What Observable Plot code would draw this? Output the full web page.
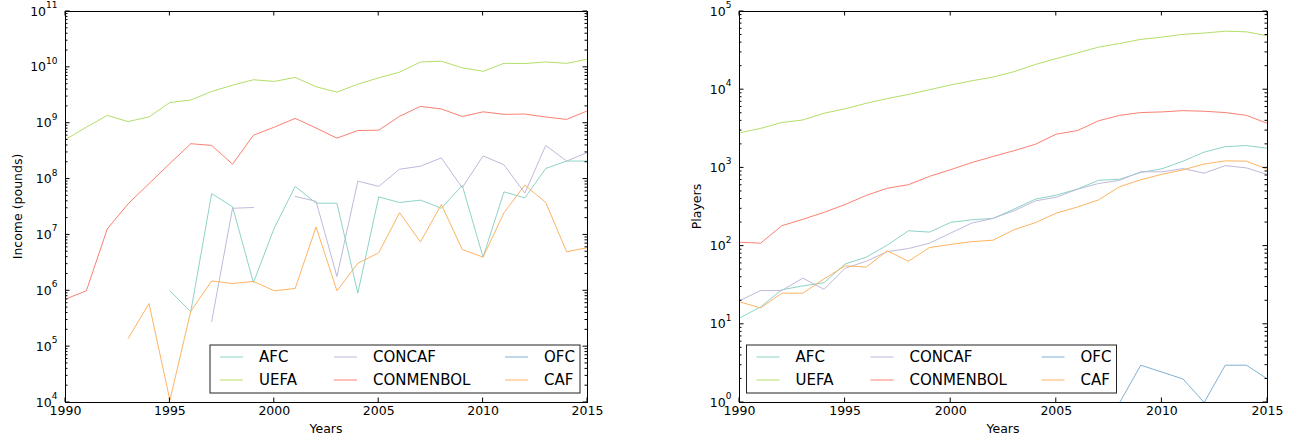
<!DOCTYPE html>
<html><head><meta charset="utf-8">
<script src="https://cdn.jsdelivr.net/npm/d3@7"></script>
<script src="https://cdn.jsdelivr.net/npm/@observablehq/plot@0.6"></script>
<style>
body{margin:0;background:#fff;}
#wrap{display:flex;width:1298px;height:445px;}
svg{font-family:"DejaVu Sans",sans-serif;display:block;}
</style></head><body><div id="wrap"></div>
<script>
const years = [1990,1991,1992,1993,1994,1995,1996,1997,1998,1999,2000,2001,2002,2003,2004,2005,2006,2007,2008,2009,2010,2011,2012,2013,2014,2015];
const names = ["AFC","UEFA","CONCAF","CONMENBOL","OFC","CAF"];
const colors = ["#8dd3c7","#b3de69","#bebada","#fb8072","#80b1d3","#fdb462"];

const incomeAFC = [null,null,null,null,null,1.0e6,4.2e5,5.5e7,3.2e7,1.4e6,1.33e7,7.4e7,3.7e7,3.7e7,9.1e5,4.8e7,3.8e7,4.2e7,3.0e7,7.7e7,4.0e6,5.9e7,4.6e7,1.55e8,2.1e8,2.1e8];
const incomeUEFA = [5.1e8,8.5e8,1.38e9,1.07e9,1.3e9,2.35e9,2.6e9,3.7e9,4.8e9,6.0e9,5.6e9,6.6e9,4.5e9,3.6e9,5.0e9,6.5e9,8.2e9,1.25e10,1.29e10,9.8e9,8.5e9,1.18e10,1.17e10,1.25e10,1.18e10,1.4e10];
const incomeCONCAF = [null,null,null,null,null,null,null,2.8e5,3.0e7,3.1e7,null,4.9e7,4.0e7,1.8e6,9.2e7,7.4e7,1.5e8,1.7e8,2.4e8,7.0e7,2.6e8,1.8e8,5.6e7,4.0e8,2.1e8,3.0e8];
const incomeCONMENBOL = [7.1e5,1.0e6,1.28e7,3.6e7,8.3e7,1.9e8,4.3e8,4.0e8,1.85e8,6.1e8,8.5e8,1.22e9,8.2e8,5.4e8,7.4e8,7.5e8,1.33e9,2.0e9,1.8e9,1.32e9,1.6e9,1.44e9,1.46e9,1.29e9,1.17e9,1.67e9];
const incomeOFC = [];
const incomeCAF = [null,null,null,1.4e5,5.9e5,1.1e4,4.3e5,1.5e6,1.35e6,1.47e6,1.0e6,1.1e6,1.39e7,1.0e6,3.1e6,4.8e6,2.5e7,7.5e6,3.5e7,5.5e6,4.0e6,2.5e7,7.8e7,3.8e7,5.0e6,5.9e6];

const playersAFC = [12,16.7,27.6,31,34,59,72,103,157,151,201,217,226,297,398,448,537,693,717,874,974,1220,1590,1870,1930,1780];
const playersUEFA = [2800,3200,3800,4100,5000,5700,6700,7700,8700,10000,11500,13000,14500,17000,21000,25000,29500,35000,39000,44000,47000,51000,53000,56000,55000,49000];
const playersCONCAF = [20,27,27,39,28,52,64,85,93,109,147,197,226,283,378,422,533,632,693,894,890,980,857,1070,1000,822];
const playersCONMENBOL = [112,109,182,220,270,340,445,550,610,780,950,1170,1400,1660,2000,2700,3000,4000,4700,5100,5200,5400,5300,5100,4700,3700];
const playersOFC = [null,null,null,null,null,null,null,null,null,null,null,null,null,null,null,null,null,null,1,3,2.45,2,1,3,3,2];
const playersCAF = [19.4,16.2,25,25,38,56,54,87,64,96,105,114,119,162,199,264,316,390,575,705,828,944,1120,1230,1220,960];

const xTicks = [1990,1995,2000,2005,2010,2015];
const incomeTicks = [1e4,1e5,1e6,1e7,1e8,1e9,1e10,1e11];
const playersTicks = [1e0,1e1,1e2,1e3,1e4,1e5];

function rows(list) {
  const out = [];
  names.forEach((n, i) => years.forEach((yr, j) => {
    const v = list[i][j];
    out.push({conf: n, year: yr, value: (v == null ? NaN : v)});
  }));
  return out;
}

function panel(o) {
  const W = 649, H = 445, mt = 11, mb = 43;
  const chart = Plot.plot({
    width: W, height: H,
    marginLeft: o.ml, marginRight: o.mr, marginTop: mt, marginBottom: mb,
    style: {fontFamily: "'DejaVu Sans', sans-serif", fontSize: "12.5px", color: "#000", background: "#fff", overflow: "visible"},
    x: {domain: [1990, 2015]},
    y: {type: "log", domain: [o.yTicks[0], o.yTicks[o.yTicks.length - 1]]},
    color: {domain: names, range: colors},
    marks: [
      Plot.line(o.data, {x: "year", y: "value", z: "conf", stroke: "conf", strokeWidth: 1, clip: true}),
      Plot.frame({stroke: "#000", strokeWidth: 1}),
      Plot.axisX({ticks: xTicks, tickFormat: d => String(d), tickSize: 0, tickPadding: 4, label: null}),
      Plot.axisY({ticks: o.yTicks, tickFormat: d => String(Math.round(Math.log10(d))), tickSize: 0, tickPadding: 8, label: null})
    ]
  });
  const svg = d3.select(chart);
  const x = chart.scale("x"), y = chart.scale("y");
  const x0 = o.ml, x1 = W - o.mr, y0 = mt, y1 = H - mb;

  // superscript tick labels
  svg.selectAll('g[aria-label="y-axis tick label"] text').each(function () {
    const e = this.textContent;
    const t = d3.select(this);
    t.text(null);
    t.append("tspan").text("10");
    t.append("tspan").attr("dy", "-7.5").attr("font-size", "9px").text(e);
  });

  // inward ticks on all four sides
  const g = svg.append("g").attr("stroke", "#000").attr("stroke-width", 1).attr("fill", "none");
  xTicks.forEach(t => {
    const px = x.apply(t);
    g.append("line").attr("x1", px).attr("x2", px).attr("y1", y1).attr("y2", y1 - 4.5);
    g.append("line").attr("x1", px).attr("x2", px).attr("y1", y0).attr("y2", y0 + 4.5);
  });
  o.yTicks.forEach((t, i) => {
    const py = y.apply(t);
    g.append("line").attr("x1", x0).attr("x2", x0 + 4.5).attr("y1", py).attr("y2", py);
    g.append("line").attr("x1", x1).attr("x2", x1 - 4.5).attr("y1", py).attr("y2", py);
    if (i < o.yTicks.length - 1) {
      for (let m = 2; m <= 9; m++) {
        const pm = y.apply(t * m);
        g.append("line").attr("x1", x0).attr("x2", x0 + 2.5).attr("y1", pm).attr("y2", pm);
        g.append("line").attr("x1", x1).attr("x2", x1 - 2.5).attr("y1", pm).attr("y2", pm);
      }
    }
  });

  // axis labels
  svg.append("text").attr("x", (x0 + x1) / 2).attr("y", 433).attr("text-anchor", "middle")
    .attr("font-size", "12.5px").attr("fill", "#000").text("Years");
  svg.append("text").attr("transform", `translate(${o.yLabelX},${(y0 + y1) / 2}) rotate(-90)`)
    .attr("text-anchor", "middle").attr("dy", "0.35em").attr("font-size", "12.5px").attr("fill", "#000").text(o.yLabel);

  // legend
  const bw = 370, bh = 48;
  const bx = o.legendLeft ? x0 + 7.5 : x1 - 7 - bw;
  const by = y1 - 9 - bh;
  const lg = svg.append("g").attr("text-anchor", "start");
  lg.append("rect").attr("x", bx).attr("y", by).attr("width", bw).attr("height", bh)
    .attr("fill", "#fff").attr("stroke", "#222").attr("stroke-width", 1);
  const colOff = [10, 124, 295], rowOff = [12, 35];
  names.forEach((n, i) => {
    const col = Math.floor(i / 2), row = i % 2;
    const hx = bx + colOff[col], yy = by + rowOff[row];
    lg.append("line").attr("x1", hx).attr("x2", hx + 23).attr("y1", yy).attr("y2", yy)
      .attr("stroke", colors[i]).attr("stroke-width", 1);
    lg.append("text").attr("x", hx + 39).attr("y", yy).attr("dy", "0.35em").attr("text-anchor", "start")
      .attr("font-size", "15px").attr("fill", "#000").text(n);
  });
  return chart;
}

const wrap = document.getElementById("wrap");
wrap.appendChild(panel({
  data: rows([incomeAFC, incomeUEFA, incomeCONCAF, incomeCONMENBOL, incomeOFC, incomeCAF]),
  yTicks: incomeTicks, ml: 65, mr: 62, yLabel: "Income (pounds)", yLabelX: 18, legendLeft: false
}));
wrap.appendChild(panel({
  data: rows([playersAFC, playersUEFA, playersCONCAF, playersCONMENBOL, playersOFC, playersCAF]),
  yTicks: playersTicks, ml: 90, mr: 31, yLabel: "Players", yLabelX: 47.5, legendLeft: true
}));
</script></body></html>
